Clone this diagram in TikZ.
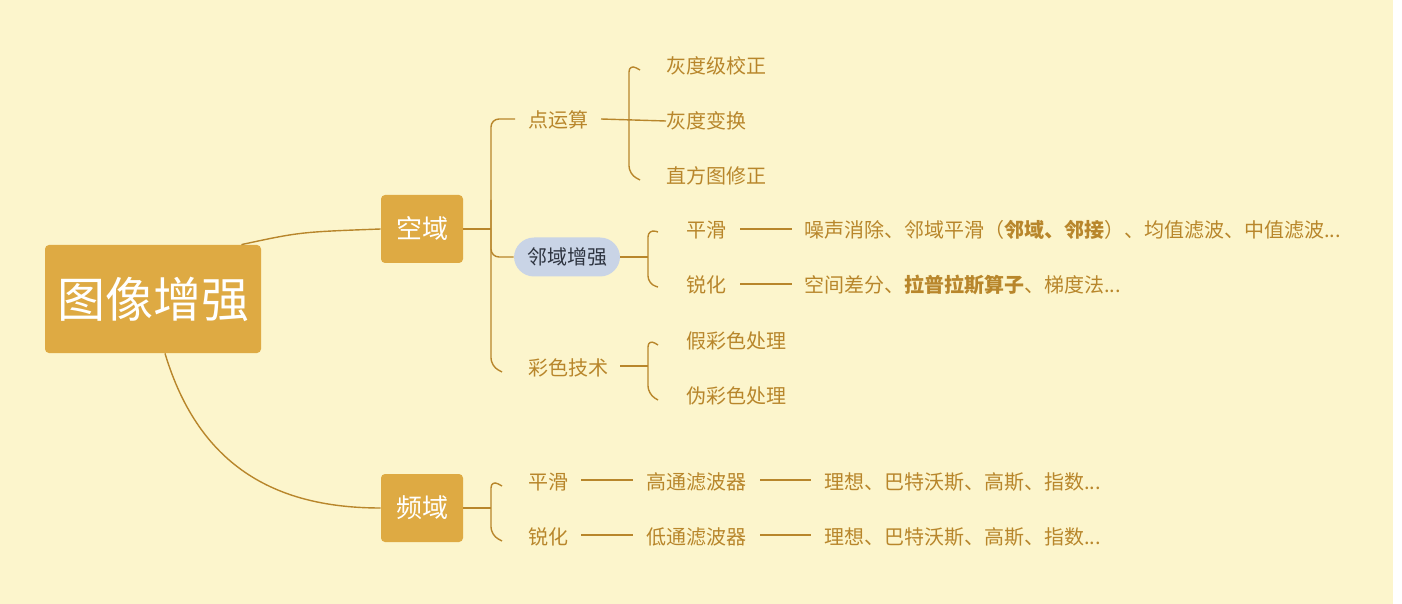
\documentclass[tikz,border=0pt]{standalone}
\usepackage{fontspec}
\setmainfont{Noto Sans CJK SC}
\definecolor{bg}{HTML}{FCF5CC}
\definecolor{tx}{HTML}{B8862B}
\definecolor{bx}{HTML}{DEAA43}
\definecolor{pill}{HTML}{C9D4E6}
\definecolor{dk}{HTML}{2E3440}
\begin{document}
\begin{tikzpicture}[x=0.5pt,y=-0.5pt,
  lbl/.style={anchor=west,text=tx,font=\fontsize{10}{12}\selectfont,inner sep=0pt},
  box/.style={fill=bx,rounded corners=2pt,text=white,inner sep=0pt},
  ln/.style={draw=tx,line width=0.7pt},
  br/.style={ln,rounded corners=4pt}]
\useasboundingbox (0,0) rectangle (1402,604);
\fill[white] (0,0) rectangle (1402,604);
\fill[bg] (0,0) rectangle (1393,604);
% boxes
\node[box,minimum width=108pt,minimum height=54pt,font=\fontsize{24}{28}\selectfont] (root) at (153,299) {图像增强};
\node[box,minimum width=41pt,minimum height=34pt,font=\fontsize{13}{15}\selectfont] (kong) at (422,229) {空域};
\node[box,minimum width=41pt,minimum height=34pt,font=\fontsize{13}{15}\selectfont] (pin) at (422,508) {频域};
\draw[ln] (root.north east)++(-20,0) coordinate (r1) .. controls (300,232) .. (kong.west);
\draw[ln] (root.south)++(12,0) coordinate (r2) .. controls (200,470) and (280,508) .. (pin.west);
% level 2 under 空域
\node[lbl] (dys) at (528,120) {点运算};
\node[fill=pill,rounded corners=10pt,minimum width=53pt,minimum height=19.5pt,inner sep=0pt,text=dk,font=\fontsize{10}{12}\selectfont] (ly) at (567,257) {邻域增强};
\node[lbl] (cs) at (528,368) {彩色技术};
\coordinate (k1) at (491,229);
\draw[ln] (kong.east) -- (k1);
\draw[br] (dys.west)++(-13,-1) -- (491,119) -- (491,366) -- ([xshift=-13,yshift=-2]cs.west);
\draw[br] (491,200) -- (491,257) -- (ly.west);
% 点运算 children
\node[lbl] (a1) at (666,66) {灰度级校正};
\node[lbl] (a2) at (666,121) {灰度变换};
\node[lbl] (a3) at (666,176) {直方图修正};
\draw[ln] (601,119) -- (a2.west);
\draw[br] ([xshift=-13,yshift=-2]a1.west) -- (629,64) -- (629,174) -- ([xshift=-13,yshift=-2]a3.west);
% 邻域增强 children
\node[lbl] (b1) at (686,230) {平滑};
\node[lbl] (b2) at (686,285) {锐化};
\draw[ln] (ly.east) -- (648,257);
\draw[br] ([xshift=-14,yshift=-1]b1.west) -- (648,229) -- (648,284) -- ([xshift=-14,yshift=-1]b2.west);
\node[lbl] (b1t) at (804,230) {噪声消除、邻域平滑（\textbf{邻域、邻接}）、均值滤波、中值滤波...};
\node[lbl] (b2t) at (804,285) {空间差分、\textbf{拉普拉斯算子}、梯度法...};
\draw[ln] (740,229) -- (792,229);
\draw[ln] (740,284) -- (792,284);
% 彩色技术 children
\node[lbl] (c1) at (686,341) {假彩色处理};
\node[lbl] (c2) at (686,396) {伪彩色处理};
\draw[ln] (620,366) -- (648,366);
\draw[br] ([xshift=-14,yshift=-2]c1.west) -- (648,339) -- (648,394) -- ([xshift=-14,yshift=-2]c2.west);
% 频域
\node[lbl] (d1) at (528,482) {平滑};
\node[lbl] (d2) at (528,537) {锐化};
\draw[ln] (pin.east) -- (491,508);
\draw[br] ([xshift=-13,yshift=-2]d1.west) -- (491,480) -- (491,535) -- ([xshift=-13,yshift=-2]d2.west);
\node[lbl] (e1) at (646,482) {高通滤波器};
\node[lbl] (e2) at (646,537) {低通滤波器};
\draw[ln] (581,480) -- (633,480);
\draw[ln] (581,535) -- (633,535);
\node[lbl] (f1) at (824,482) {理想、巴特沃斯、高斯、指数...};
\node[lbl] (f2) at (824,537) {理想、巴特沃斯、高斯、指数...};
\draw[ln] (760,480) -- (811,480);
\draw[ln] (760,535) -- (811,535);
\end{tikzpicture}
\end{document}
